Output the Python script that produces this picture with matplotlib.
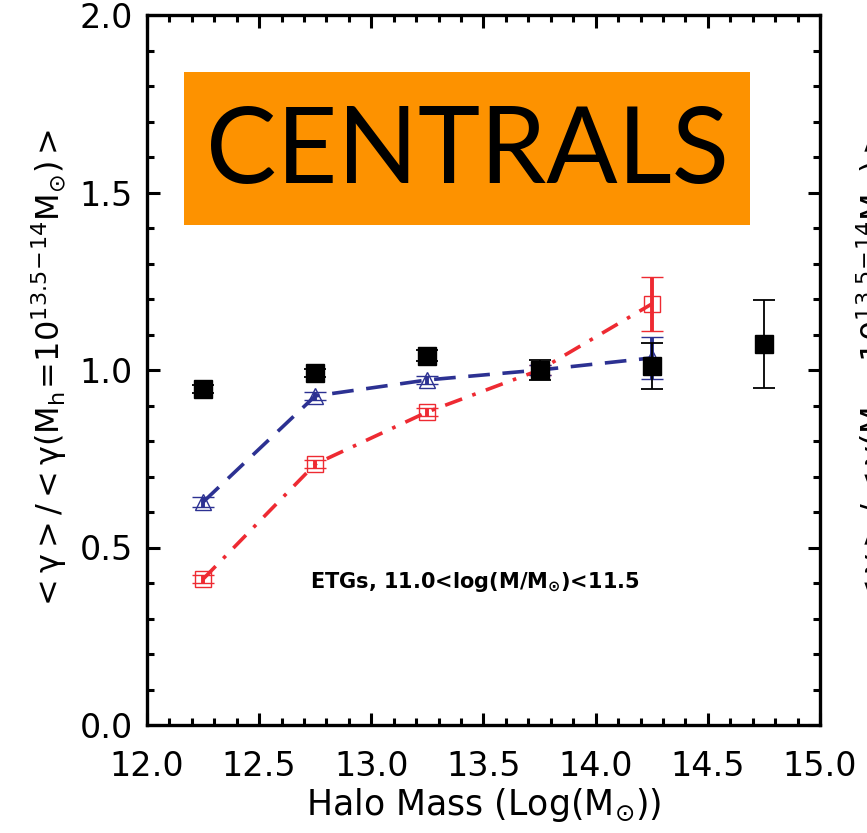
import numpy as np
import matplotlib
matplotlib.use('Agg')
import matplotlib.pyplot as plt
from matplotlib.patches import Rectangle

plt.rcParams['font.family'] = ['DejaVu Sans']
plt.rcParams['mathtext.fontset'] = 'dejavusans'
plt.rcParams['mathtext.default'] = 'regular'

# halo mass bins (log Msun)
mhalo = [12.25, 12.75, 13.25, 13.75, 14.25]
mhalo_all = [12.25, 12.75, 13.25, 13.75, 14.25, 14.75]

# normalised <gamma>, all centrals (black)
g_all = [0.946, 0.992, 1.040, 1.000, 1.011, 1.073]
e_all = [0.012, 0.012, 0.015, 0.028, 0.065, 0.124]
# blue sample
g_blue = [0.628, 0.927, 0.972, 1.000, 1.034]
e_blue = [0.015, 0.012, 0.012, 0.015, 0.059]
# red sample
g_red = [0.411, 0.735, 0.882, 1.000, 1.186]
e_red = [0.012, 0.012, 0.012, 0.015, 0.077]

blue = '#2c3192'
red = '#ee2a32'

fig = plt.figure(figsize=(8.67, 8.33), dpi=100)
ax = fig.add_axes([147/867, 108/833, 673/867, 710/833])

ax.plot(mhalo, g_blue, color=blue, lw=2.6, ls=(0, (6, 3.5)), zorder=2)
ax.plot(mhalo, g_red, color=red, lw=2.6, ls=(0, (5, 3, 1, 3)), zorder=2)

ax.errorbar(mhalo, g_red, yerr=e_red, fmt='s', mfc='none', mec=red, mew=1.0, ms=11,
            ecolor=red, elinewidth=2.8, capsize=8, capthick=2.8, zorder=3)
ax.errorbar(mhalo, g_blue, yerr=e_blue, fmt='^', mfc='none', mec=blue, mew=1.0, ms=11,
            ecolor=blue, elinewidth=2.8, capsize=8, capthick=2.8, zorder=4)
ax.errorbar(mhalo_all, g_all, yerr=e_all, fmt='s', color='black', ms=12.5,
            ecolor='black', elinewidth=1.3, capsize=8, capthick=1.3, zorder=5)

ax.set_xlim(12.0, 15.0)
ax.set_ylim(0.0, 2.0)
ax.set_xticks(np.arange(12.0, 15.01, 0.5))
ax.set_yticks(np.arange(0.0, 2.01, 0.5))
ax.set_xticks(np.arange(12.0, 15.01, 0.1), minor=True)
ax.set_yticks(np.arange(0.0, 2.01, 0.1), minor=True)
ax.xaxis.set_major_formatter(matplotlib.ticker.FormatStrFormatter('%.1f'))
ax.yaxis.set_major_formatter(matplotlib.ticker.FormatStrFormatter('%.1f'))
ax.tick_params(which='both', direction='in', top=True, right=True, width=2.2, labelsize=24)
ax.tick_params(which='major', length=9)
ax.tick_params(which='minor', length=5)
ax.tick_params(axis='x', pad=18)
ax.tick_params(axis='y', pad=10)
for s in ax.spines.values():
    s.set_linewidth(2.4)

ax.set_xlabel(r'Halo Mass (Log(M$_{\odot}$))', fontsize=25, labelpad=2)
ylab = r'$<\gamma>/<\gamma(M_h\!=\!10^{13.5\!-\!14}M_{\odot})>$'
ax.set_ylabel(ylab, fontsize=23, labelpad=8)

# panel tag
ax.add_patch(Rectangle((12.165, 1.408), 2.523, 0.431, facecolor='#fd9200',
                       edgecolor='none', zorder=1))
ax.text(12.165 + 2.523/2, 1.408 + 0.431/2 - 0.012, 'CENTRALS', fontsize=76, family='Lato',
        ha='center', va='center', zorder=2)

ax.text(13.46, 0.403, r'ETGs, 11.0<log(M/M$_{\odot}$)<11.5', fontsize=15,
        fontweight='bold', ha='center', va='center')

# y label of the neighbouring panel, cut by the figure edge
fig.text(874/867, 1 - 370/833, ylab, fontsize=23, rotation=90, ha='center', va='center')

plt.savefig('out.png', dpi=100)
plt.close()
